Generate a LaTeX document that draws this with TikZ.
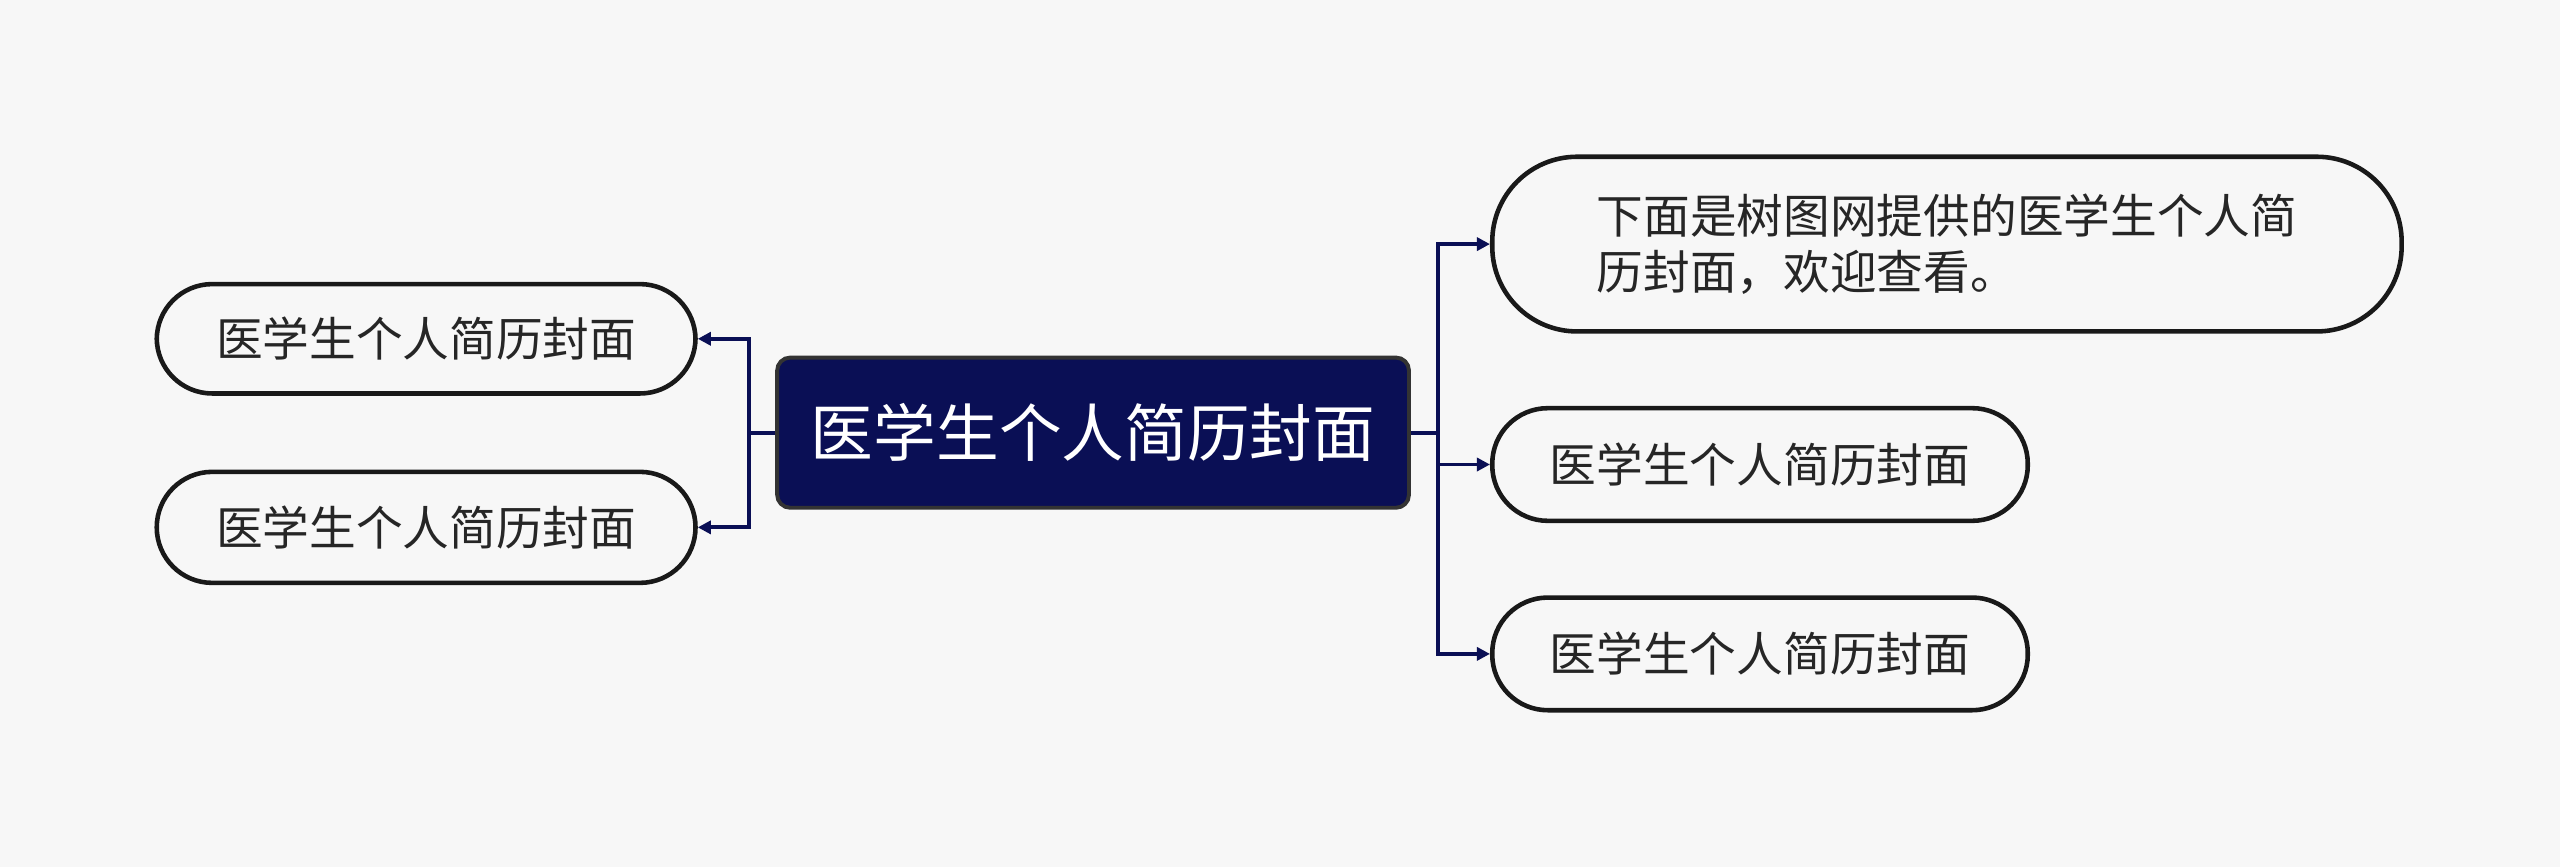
\documentclass[tikz,border=0pt]{standalone}
\usepackage{fontspec}
\setmainfont{Noto Sans CJK SC}
\usetikzlibrary{arrows.meta}
\definecolor{navy}{HTML}{0A0F55}
\definecolor{bg}{HTML}{F7F7F7}
\tikzset{
 pill/.style={draw=black!90,line width=1.4pt,fill=bg,rounded corners=17pt,font=\fontsize{14.3pt}{17pt}\selectfont,text=black!85,inner sep=0pt},
 conn/.style={navy,line width=1.2pt},
 arr/.style={conn,-{Triangle[length=4pt,width=4pt]}}
}
\begin{document}
\begin{tikzpicture}[x=0.5pt,y=-0.5pt]
\fill[bg] (0,0) rectangle (1568,531);
\useasboundingbox (0,0) rectangle (1568,531);
\node[draw=black!80,line width=1.2pt,fill=navy,rounded corners=4pt,minimum width=193.5pt,minimum height=46pt,text=white,font=\fontsize{19.2pt}{22pt}\selectfont,inner sep=0pt] (c) at (669.5,265) {医学生个人简历封面};
\node[pill,minimum width=165pt,minimum height=33.5pt] (l1) at (261,207.5) {医学生个人简历封面};
\node[pill,minimum width=165pt,minimum height=34pt] (l2) at (261,323) {医学生个人简历封面};
\node[pill,rounded corners=26pt,minimum width=278.5pt,minimum height=53.5pt,align=left] (r1) at (1192.5,149.5) {下面是树图网提供的医学生个人简\\历封面，欢迎查看。};
\node[pill,minimum width=164pt,minimum height=34.5pt] (r2) at (1078,284.5) {医学生个人简历封面};
\node[pill,minimum width=164pt,minimum height=34.5pt] (r3) at (1078,400.5) {医学生个人简历封面};
\coordinate (lj) at (459,265);
\coordinate (rj) at (881,265);
\draw[conn] (c.west) -- (lj);
\draw[arr] (lj) |- (l1.east);
\draw[arr] (lj) |- (l2.east);
\draw[conn] (c.east) -- (rj);
\draw[arr] (rj) |- (r1.west);
\draw[arr] (rj) |- (r2.west);
\draw[arr] (rj) |- (r3.west);
\end{tikzpicture}
\end{document}
